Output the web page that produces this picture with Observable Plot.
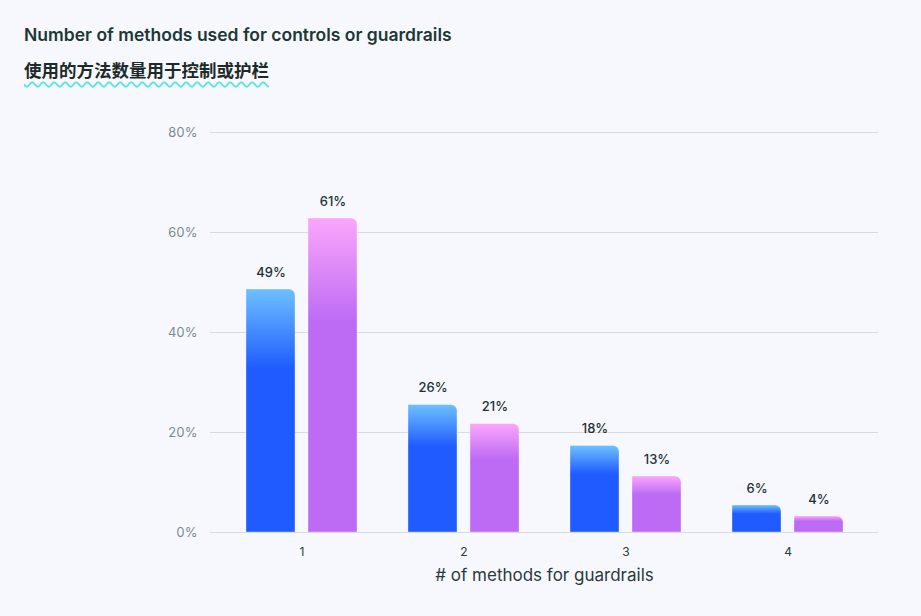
<!DOCTYPE html>
<html>
<head>
<meta charset="utf-8">
<script src="https://cdn.jsdelivr.net/npm/d3@7"></script>
<script src="https://cdn.jsdelivr.net/npm/@observablehq/plot@0.6"></script>
<style>
  html, body { margin: 0; padding: 0; background: #f7f8fd; }
  body { width: 921px; height: 616px; position: relative; overflow: hidden; font-family: Inter, "Noto Sans", sans-serif; }
  #title { position: absolute; left: 24px; top: 23px; font-size: 17.5px; font-weight: 600; color: #1c3834; line-height: 24px; letter-spacing: 0px; }
  #subtitle { position: absolute; left: 24px; top: 58px; font-size: 17.5px; font-weight: 700; color: #1d2a2a; line-height: 24px;
    font-family: "Noto Sans CJK SC", sans-serif;
    text-decoration: underline wavy #5ee3ea; text-decoration-thickness: 1.5px; text-underline-offset: 4px; }
  #chart { position: absolute; left: 0; top: 100px; }
</style>
</head>
<body>
<div id="title">Number of methods used for controls or guardrails</div>
<div id="subtitle">使用的方法数量用于控制或护栏</div>
<div id="chart"></div>
<script>
// Categories (x axis)
const methods = ["1", "2", "3", "4"];
// Two unnamed series (no legend in the reference)
const seriesNames = ["Series A", "Series B"];
// Bar heights as drawn in the picture (percent)
const seriesAHeights = [48.6, 25.5, 17.3, 5.4];
const seriesBHeights = [62.8, 21.7, 11.2, 3.2];
// Value labels printed above the bars
const seriesALabels = ["49%", "26%", "18%", "6%"];
const seriesBLabels = ["61%", "21%", "13%", "4%"];
// Y tick values
const yTicks = [0, 20, 40, 60, 80];

const rows = [];
methods.forEach((m, i) => {
  rows.push({method: m, series: seriesNames[0], value: seriesAHeights[i], label: seriesALabels[i]});
  rows.push({method: m, series: seriesNames[1], value: seriesBHeights[i], label: seriesBLabels[i]});
});
const rowsA = rows.filter(d => d.series === seriesNames[0]);
const rowsB = rows.filter(d => d.series === seriesNames[1]);

const defs = () => {
  const ns = "http://www.w3.org/2000/svg";
  const g = document.createElementNS(ns, "defs");
  const mk = (id, top, solid) => {
    const lg = document.createElementNS(ns, "linearGradient");
    lg.setAttribute("id", id);
    lg.setAttribute("x1", "0"); lg.setAttribute("y1", "0");
    lg.setAttribute("x2", "0"); lg.setAttribute("y2", "1");
    [[0, top], [0.33, solid], [1, solid]].forEach(([o, c]) => {
      const s = document.createElementNS(ns, "stop");
      s.setAttribute("offset", o);
      s.setAttribute("stop-color", c);
      lg.appendChild(s);
    });
    g.appendChild(lg);
  };
  mk("gradA", "#6ec0ff", "#1f5bff");
  mk("gradB", "#fba6fc", "#bd6bf4");
  return g;
};

const chart = Plot.plot({
  width: 921,
  height: 486,
  marginLeft: 210,
  marginRight: 43,
  marginTop: 32,
  marginBottom: 54,
  style: {background: "transparent", fontFamily: "Inter, 'Noto Sans', sans-serif", overflow: "visible"},
  x: {domain: methods, paddingInner: 0.315, paddingOuter: 0.219},
  y: {domain: [0, 80]},
  marks: [
    defs,
    Plot.gridY(yTicks, {stroke: "#d9dbe3", strokeOpacity: 1}),
    Plot.axisY(yTicks, {tickSize: 0, tickPadding: 13, tickFormat: d => d + "%", fill: "#7b8a8c", fontSize: 13, label: null}),
    Plot.axisX({tickSize: 0, tickPadding: 15, fill: "#2a3a3a", fontSize: 12,
      label: "# of methods for guardrails", labelAnchor: "center", labelArrow: "none", labelOffset: 48}),
    Plot.barY(rowsA, {x: "method", y: "value", fill: "url(#gradA)", insetRight: 62, ry1: 6, rx1: 0, stroke: "#ffffff", strokeOpacity: 0.35, strokeWidth: 1}),
    Plot.barY(rowsB, {x: "method", y: "value", fill: "url(#gradB)", insetLeft: 62, ry1: 6, rx1: 0, stroke: "#ffffff", strokeOpacity: 0.35, strokeWidth: 1}),
    Plot.ruleY([0], {stroke: "#d9dbe3"}),
    Plot.text(rowsA, {x: "method", y: "value", text: "label", dx: -31, dy: -17, fill: "#1d3333", fontSize: 13, fontWeight: 500}),
    Plot.text(rowsB, {x: "method", y: "value", text: "label", dx: 31, dy: -17, fill: "#1d3333", fontSize: 13, fontWeight: 500})
  ]
});
// style axis label
chart.querySelectorAll("[aria-label='x-axis label'] text, [aria-label='x-axis label']").forEach(el => {
  el.setAttribute("font-size", 17);
  el.setAttribute("fill", "#2a3a3a");
});
document.getElementById("chart").appendChild(chart);
</script>
</body>
</html>
